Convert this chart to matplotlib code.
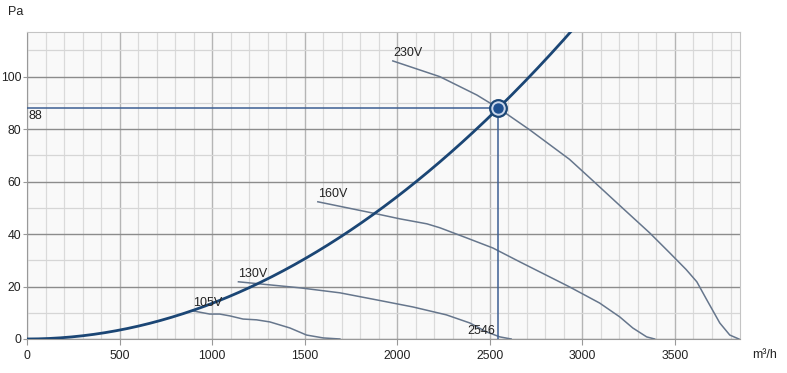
import numpy as np
import matplotlib as mpl
import matplotlib.pyplot as plt
from matplotlib.ticker import MultipleLocator

mpl.rcParams["font.family"] = ["Liberation Sans", "DejaVu Sans"]

# ---------- data ----------
op_q = 2546
op_p = 88

fan_230_q = [1976, 2230, 2430, 2546, 2714, 2930, 3051, 3200, 3364, 3472, 3560, 3618, 3672, 3742, 3796, 3845]
fan_230_p = [106, 100, 93, 88, 79.8, 68.5, 60.7, 51, 40.4, 32.8, 26.5, 21.8, 14.9, 6.1, 1.5, 0]

fan_160_q = [1571, 1868, 2014, 2160, 2230, 2376, 2516, 2662, 2800, 2932, 3093, 3202, 3272, 3347, 3390]
fan_160_p = [52.3, 48, 45.8, 43.9, 42.4, 38.5, 34.7, 29.4, 24.5, 19.8, 13.7, 8.4, 4.2, 0.8, 0]

fan_130_q = [1142, 1258, 1474, 1690, 1889, 2085, 2265, 2392, 2482, 2554, 2615]
fan_130_p = [21.8, 21, 19.5, 17.6, 14.9, 12.2, 9.2, 6.1, 2.7, 0.8, 0]

fan_105_q = [897, 987, 1041, 1096, 1167, 1240, 1312, 1420, 1510, 1600, 1690]
fan_105_p = [10.7, 9.5, 9.5, 8.8, 7.6, 7.3, 6.5, 4.2, 1.5, 0.4, 0]

fan_labels = ["230V", "160V", "130V", "105V"]

x_ticks = [0, 500, 1000, 1500, 2000, 2500, 3000, 3500]
y_ticks = [0, 20, 40, 60, 80, 100]

FAN_COLOR = "#66768c"
SYS_COLOR = "#1b4675"
OP_COLOR = "#3d5f92"

fig = plt.figure(figsize=(7.87, 3.73), dpi=100)
ax = fig.add_axes([0.0343, 0.0912, 0.9057, 0.8228])
ax.set_facecolor("#f9f9f9")

ax.set_xlim(0, 3850)
ax.set_ylim(0, 117)

# grid
ax.xaxis.set_major_locator(MultipleLocator(500))
ax.xaxis.set_minor_locator(MultipleLocator(100))
ax.yaxis.set_major_locator(MultipleLocator(20))
ax.yaxis.set_minor_locator(MultipleLocator(10))
ax.grid(True, which="minor", axis="x", color="#dadada", linewidth=0.9)
ax.grid(True, which="major", axis="x", color="#b5b5b5", linewidth=1.0)
ax.grid(True, which="minor", axis="y", color="#d6d6d6", linewidth=0.9)
ax.grid(True, which="major", axis="y", color="#8c8c8c", linewidth=1.0)
ax.set_axisbelow(True)

ax.set_xticks(x_ticks)
ax.set_yticks(y_ticks)
ax.tick_params(axis="both", which="major", labelsize=8.8, length=3, color="#999999",
               labelcolor="#222222", pad=1)
ax.tick_params(axis="x", pad=4, length=4)
ax.tick_params(axis="both", which="minor", length=0)

for side in ["left", "bottom"]:
    ax.spines[side].set_color("#999999")
for side in ["top", "right"]:
    ax.spines[side].set_color("#c4c4c4")

# fan curves
fans = [(fan_230_q, fan_230_p), (fan_160_q, fan_160_p), (fan_130_q, fan_130_p), (fan_105_q, fan_105_p)]
for (q, p), lab in zip(fans, fan_labels):
    ax.plot(q, p, color=FAN_COLOR, linewidth=1.1, zorder=3)
    ax.text(q[0], p[0] + 0.6, lab, ha="left", va="bottom", fontsize=9, color="#222222", zorder=5)

# system curve (quadratic through operating point)
sys_q = np.linspace(0, 3000, 300)
sys_p = op_p * (sys_q / op_q) ** 2
ax.plot(sys_q, sys_p, color=SYS_COLOR, linewidth=2.0, zorder=4, clip_on=True)

# operating point lines
ax.plot([0, op_q], [op_p, op_p], color=OP_COLOR, linewidth=1.1, zorder=3)
ax.plot([op_q, op_q], [0, op_p], color=OP_COLOR, linewidth=1.1, zorder=3)
ax.plot([op_q], [op_p], marker="o", markersize=12, markerfacecolor="#c9d6ea",
        markeredgecolor=SYS_COLOR, markeredgewidth=1.6, zorder=6)
ax.plot([op_q], [op_p], marker="o", markersize=6.5, markerfacecolor="#1d4f8f",
        markeredgecolor="#1d4f8f", zorder=7)

ax.text(8, op_p - 0.6, str(op_p), ha="left", va="top", fontsize=9, color="#222222", zorder=5)
ax.text(op_q - 15, 0.6, str(op_q), ha="right", va="bottom", fontsize=9, color="#222222", zorder=5)

fig.text(8 / 787, 1 - 12 / 373, "Pa", ha="left", va="center", fontsize=9, color="#222222")
fig.text(752 / 787, 1 - 355 / 373, "m³/h", ha="left", va="center", fontsize=9, color="#222222")

fig.savefig("out.png", dpi=100)
